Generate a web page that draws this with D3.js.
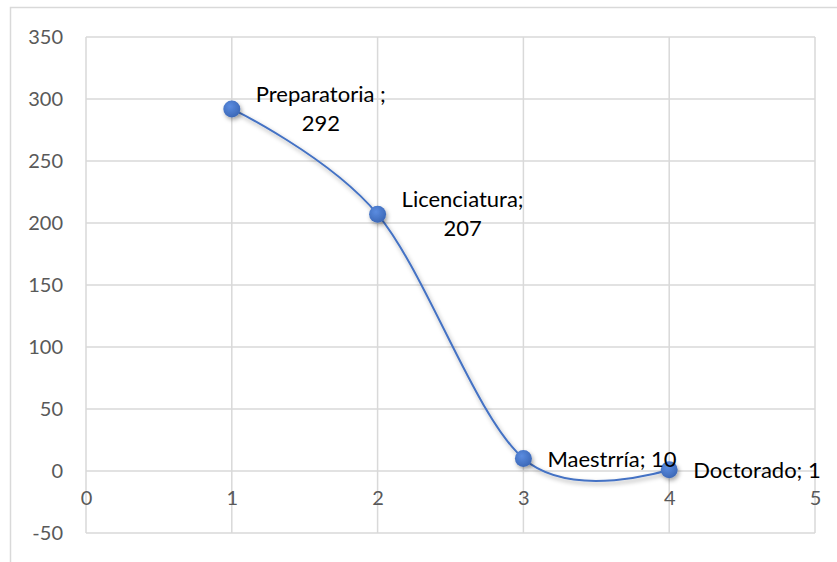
<!DOCTYPE html>
<html>
<head>
<meta charset="utf-8">
<script src="https://cdn.jsdelivr.net/npm/d3@7/dist/d3.min.js"></script>
<style>
  body { margin: 0; background: #fff; }
  svg { display: block; font-family: Lato, "Noto Sans", sans-serif; }
</style>
</head>
<body>
<div id="chart"></div>
<script>
// data
const xValues = [1, 2, 3, 4];
const yValues = [292, 207, 10, 1];
const names = ["Preparatoria ", "Licenciatura", "Maestrría", "Doctorado"];
const xTicks = [0, 1, 2, 3, 4, 5];
const yTicks = [-50, 0, 50, 100, 150, 200, 250, 300, 350];

const W = 837, H = 562;
const blue = '#4472c4';
const grid = '#d9d9d9';
const fmt = d => String(d); // plain hyphen for negatives, no decimals

const svg = d3.select('#chart').append('svg')
  .attr('width', W)
  .attr('height', H);

// outer chart border (only top and left show in the crop)
svg.append('rect')
  .attr('x', 10.5).attr('y', 7.5)
  .attr('width', 900).attr('height', 600)
  .attr('fill', 'none')
  .attr('stroke', grid)
  .attr('stroke-width', 1.5);

const x = d3.scaleLinear().domain([0, 5]).range([86, 815]);
const y = d3.scaleLinear().domain([-50, 350]).range([533, 37]);

const defs = svg.append('defs');

const shadow = defs.append('filter')
  .attr('id', 'shadow')
  .attr('x', '-50%').attr('y', '-50%')
  .attr('width', '200%').attr('height', '200%');
shadow.append('feDropShadow')
  .attr('dx', 1.5).attr('dy', 2.5)
  .attr('stdDeviation', 2)
  .attr('flood-color', '#000')
  .attr('flood-opacity', 0.35);

const grad = defs.append('radialGradient')
  .attr('id', 'dot')
  .attr('cx', '40%').attr('cy', '35%').attr('r', '70%');
grad.append('stop').attr('offset', '0%').attr('stop-color', '#5b8ce0');
grad.append('stop').attr('offset', '100%').attr('stop-color', '#3a66b5');

// gridlines
const gridG = svg.append('g')
  .attr('stroke', grid)
  .attr('stroke-width', 1.5);

gridG.selectAll('line.h')
  .data(yTicks)
  .join('line')
  .attr('class', 'h')
  .attr('x1', x(0)).attr('x2', x(5))
  .attr('y1', d => y(d)).attr('y2', d => y(d));

gridG.selectAll('line.v')
  .data(xTicks)
  .join('line')
  .attr('class', 'v')
  .attr('x1', d => x(d)).attr('x2', d => x(d))
  .attr('y1', y(-50)).attr('y2', y(350));

// y axis labels
const yAxis = svg.append('g')
  .attr('transform', `translate(${x(0) - 23},0)`)
  .call(d3.axisLeft(y).tickValues(yTicks).tickFormat(fmt).tickSize(0).tickPadding(0));
yAxis.select('.domain').remove();
yAxis.selectAll('text')
  .attr('fill', '#595959')
  .attr('font-size', 20)
  .attr('font-family', 'Lato, sans-serif');

// x axis labels sit under the zero line
const xAxis = svg.append('g')
  .attr('transform', `translate(0,${y(0) + 20})`)
  .call(d3.axisBottom(x).tickValues(xTicks).tickFormat(fmt).tickSize(0).tickPadding(0));
xAxis.select('.domain').remove();
xAxis.selectAll('text')
  .attr('fill', '#595959')
  .attr('font-size', 20)
  .attr('font-family', 'Lato, sans-serif');

const pts = xValues.map((v, i) => ({ x: v, y: yValues[i], name: names[i] }));

// smoothed line
const line = d3.line()
  .x(d => x(d.x))
  .y(d => y(d.y))
  .curve(d3.curveCardinal.tension(0));

svg.append('path')
  .datum(pts)
  .attr('d', line)
  .attr('fill', 'none')
  .attr('stroke', blue)
  .attr('stroke-width', 2)
  .attr('filter', 'url(#shadow)');

// markers
svg.selectAll('circle.pt')
  .data(pts)
  .join('circle')
  .attr('class', 'pt')
  .attr('cx', d => x(d.x))
  .attr('cy', d => y(d.y))
  .attr('r', 8.5)
  .attr('fill', 'url(#dot)')
  .attr('filter', 'url(#shadow)');

// data labels, wrapped when too long like Excel does
const fs = 22;
const labels = svg.selectAll('g.lab')
  .data(pts)
  .join('g')
  .attr('class', 'lab');

labels.each(function (d) {
  const g = d3.select(this);
  const full = `${d.name}; ${d.y}`;
  const t = g.append('text')
    .attr('font-size', fs)
    .attr('fill', '#000')
    .text(full);
  const left = x(d.x) + 24;
  const cy = y(d.y);
  if (t.node().getComputedTextLength() > 160) {
    t.remove();
    const lines = [`${d.name};`, `${d.y}`];
    const tt = g.append('text').attr('font-size', fs).text(lines[0]);
    const w0 = tt.node().getComputedTextLength();
    tt.remove();
    const cx = left + w0 / 2;
    lines.forEach((s, i) => {
      g.append('text')
        .attr('font-size', fs)
        .attr('fill', '#000')
        .attr('text-anchor', 'middle')
        .attr('x', cx)
        .attr('y', cy - 7 + i * 29)
        .text(s);
    });
  } else {
    t.attr('x', left).attr('y', cy + 8);
  }
});
</script>
</body>
</html>
